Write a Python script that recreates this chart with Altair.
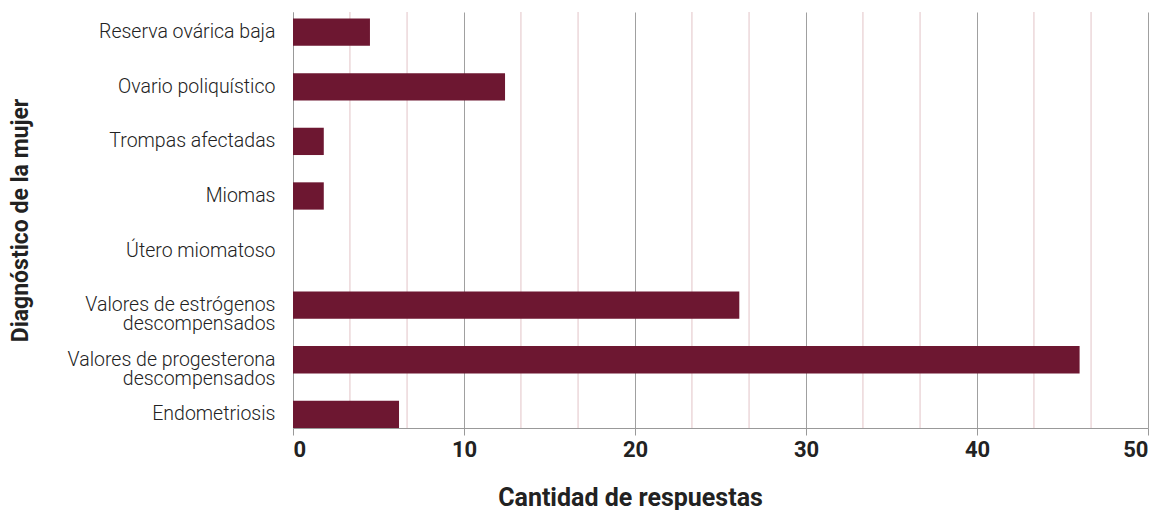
import altair as alt
import pandas as pd

categories = [
    "Reserva ovárica baja",
    "Ovario poliquístico",
    "Trompas afectadas",
    "Miomas",
    "Útero miomatoso",
    "Valores de estrógenos\ndescompensados",
    "Valores de progesterona\ndescompensados",
    "Endometriosis",
]
values = [4.5, 12.4, 1.8, 1.8, 0, 26.1, 46.0, 6.2]
major_ticks = [0, 10, 20, 30, 40, 50]
minor_ticks = [3.33, 6.67, 13.33, 16.67, 23.33, 26.67, 33.33, 36.67, 43.33, 46.67]

bars_df = pd.DataFrame({"cat": categories, "value": values})
minor_df = pd.DataFrame({"value": minor_ticks})

x_enc = alt.X(
    "value:Q",
    scale=alt.Scale(domain=[0, 50], nice=False, zero=True),
    axis=alt.Axis(
        values=major_ticks,
        title="Cantidad de respuestas",
        titleFont="Roboto",
        titleFontSize=25,
        titleFontWeight="bold",
        titleColor="#222222",
        titleX=337,
        titleY=77,
        titleAlign="center",
        titleBaseline="alphabetic",
        labelFont="Roboto",
        labelFontSize=22,
        labelFontWeight="bold",
        labelColor="#222222",
        labelPadding=4,
        tickSize=7,
        tickColor="#999999",
        domainColor="#999999",
        grid=True,
        gridColor="#a0a0a0",
        gridWidth=1,
    ),
)

rules = (
    alt.Chart(minor_df)
    .mark_rule(color="#e2c3c7", strokeWidth=1)
    .encode(x=x_enc)
)

bars = (
    alt.Chart(bars_df)
    .mark_bar(color="#6d1731")
    .encode(
        x=x_enc,
        y=alt.Y(
            "cat:N",
            sort=categories,
            scale=alt.Scale(paddingInner=0.5, paddingOuter=0.06, align=1),
            axis=alt.Axis(
                title="Diagnóstico de la mujer",
                titleFont="Roboto",
                titleFontSize=23,
                titleFontWeight="bold",
                titleColor="#222222",
                titleX=-273,
                titleY=208,
                titleAngle=270,
                titleAlign="center",
                titleBaseline="middle",
                labelFont="Roboto",
                labelFontSize=19.5,
                labelFontWeight=300,
                labelColor="#222222",
                labelPadding=18,
                labelLimit=400,
                labelLineHeight=19,
                labelExpr="split(datum.label, '\\n')",
                ticks=False,
                domainColor="#999999",
                grid=False,
            ),
        ),
    )
)

chart = (
    alt.layer(rules, bars)
    .properties(width=855, height=416, padding={"left": 1, "top": 3, "right": 5, "bottom": 0})
    .configure_view(stroke=None)
)

chart.save("out.html", embed_options={"renderer": "svg", "actions": False})
